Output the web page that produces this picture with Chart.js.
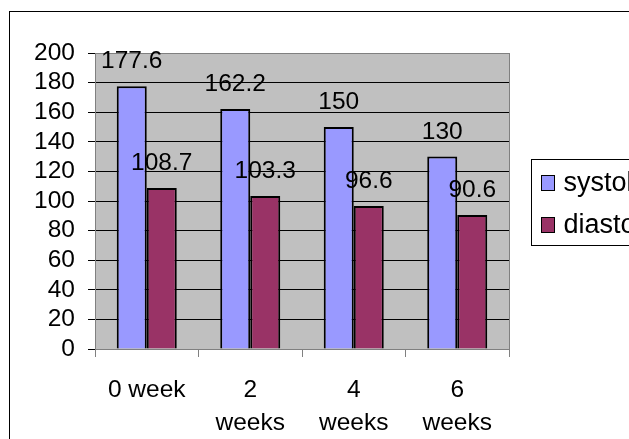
<!DOCTYPE html>
<html>
<head>
<meta charset="utf-8">
<script src="https://cdn.jsdelivr.net/npm/chart.js@4/dist/chart.umd.min.js"></script>
<style>
  html, body { margin: 0; padding: 0; background: #fff; overflow: hidden; }
  #wrap { width: 629px; height: 439px; }
</style>
</head>
<body>
<div id="wrap"><canvas id="bp" width="629" height="439"></canvas></div>
<script>
// ── Data ──────────────────────────────────────────────────────
const weeks     = [['0 week'], ['2', 'weeks'], ['4', 'weeks'], ['6', 'weeks']];
const systolic  = [177.6, 162.2, 150, 130];
const diastolic = [108.7, 103.3, 96.6, 90.6];
const yTicks    = [0, 20, 40, 60, 80, 100, 120, 140, 160, 180, 200];

const FONT = "'Liberation Sans', Arial, sans-serif";
const FSIZE = 24.5;

// grey plot area + outer frame
const plotBack = {
  id: 'plotBack',
  beforeDraw(chart) {
    const { ctx, chartArea: a } = chart;
    ctx.save();
    ctx.fillStyle = '#fff';
    ctx.fillRect(0, 0, chart.width, chart.height);
    ctx.strokeStyle = '#000';
    ctx.lineWidth = 1;
    ctx.strokeRect(9.5, 11.5, 1000, 1000);
    ctx.fillStyle = '#c0c0c0';
    ctx.fillRect(a.left, a.top, a.right - a.left, a.bottom - a.top);
    ctx.restore();
  },
  beforeDatasetsDraw(chart) {
    const { ctx, chartArea: a } = chart;
    ctx.save();
    ctx.strokeStyle = '#808080';
    ctx.lineWidth = 1;
    ctx.strokeRect(a.left + 0.5, a.top + 0.5, a.right - a.left, a.bottom - a.top);
    ctx.restore();
  },
};

// value labels above each bar
const valueLabels = {
  id: 'valueLabels',
  afterDatasetsDraw(chart) {
    const { ctx } = chart;
    ctx.save();
    ctx.font = `${FSIZE}px ${FONT}`;
    ctx.fillStyle = '#000';
    ctx.textAlign = 'center';
    ctx.textBaseline = 'alphabetic';
    chart.data.datasets.forEach((ds, i) => {
      chart.getDatasetMeta(i).data.forEach((bar, j) => {
        ctx.fillText(String(ds.data[j]), bar.x, bar.y - 18);
      });
    });
    ctx.restore();
  },
};

// boxed legend on the right, runs off the edge
const sideLegend = {
  id: 'sideLegend',
  afterDraw(chart) {
    const { ctx } = chart;
    const x = 531.5, y = 159.5;
    ctx.save();
    ctx.strokeStyle = '#000';
    ctx.lineWidth = 1;
    ctx.strokeRect(x, y, 300, 86);
    ctx.font = `27px ${FONT}`;
    ctx.textBaseline = 'middle';
    ctx.textAlign = 'left';
    chart.data.datasets.forEach((ds, i) => {
      const cy = y + 23 + i * 42;
      ctx.fillStyle = ds.backgroundColor;
      ctx.fillRect(x + 10, cy - 7, 13, 15);
      ctx.strokeRect(x + 10, cy - 7, 13, 15);
      ctx.fillStyle = '#000';
      ctx.fillText(ds.label, x + 32, cy + 1);
    });
    ctx.restore();
  },
};

new Chart(document.getElementById('bp'), {
  type: 'bar',
  data: {
    labels: weeks,
    datasets: [
      {
        label: 'systolic',
        data: systolic,
        backgroundColor: '#9999ff',
        borderColor: '#000',
        borderWidth: 2,
      },
      {
        label: 'diastolic',
        data: diastolic,
        backgroundColor: '#993366',
        borderColor: '#000',
        borderWidth: 2,
      },
    ],
  },
  options: {
    responsive: false,
    animation: false,
    devicePixelRatio: 1,
    categoryPercentage: 0.58,
    barPercentage: 1,
    layout: { padding: { top: 53, right: 120, left: 0, bottom: 0 } },
    plugins: {
      legend: { display: false },
      tooltip: { enabled: false },
    },
    scales: {
      x: {
        offset: true,
        grid: {
          offset: true,
          drawOnChartArea: false,
          drawTicks: true,
          tickLength: 8,
          color: '#808080',
        },
        border: { color: '#808080' },
        ticks: {
          color: '#000',
          padding: 17,
          maxRotation: 0,
          autoSkip: false,
          font: { family: FONT, size: FSIZE, lineHeight: '33px' },
        },
        afterFit(scale) { scale.height = 90; },
      },
      y: {
        min: 0,
        max: 200,
        afterBuildTicks(scale) { scale.ticks = yTicks.map((v) => ({ value: v })); },
        grid: { color: '#000', tickLength: 7, lineWidth: 1 },
        border: { color: '#808080' },
        ticks: {
          color: '#000',
          padding: 13,
          autoSkip: false,
          font: { family: FONT, size: FSIZE },
        },
        afterFit(scale) { scale.width = 95; },
      },
    },
  },
  plugins: [plotBack, valueLabels, sideLegend],
});
</script>
</body>
</html>
